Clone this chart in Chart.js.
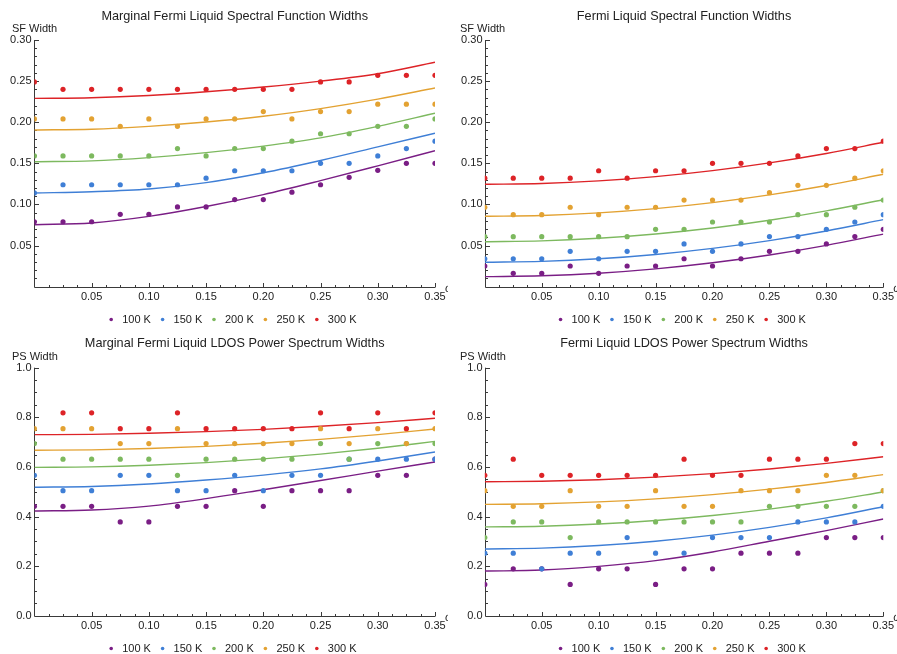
<!DOCTYPE html>
<html>
<head>
<meta charset="utf-8">
<script src="https://cdn.jsdelivr.net/npm/chart.js@4.4.0/dist/chart.umd.min.js"></script>
<style>
  body { margin: 0; background: #fff; }
  #wrap { position: relative; width: 897px; height: 654px; overflow: hidden; }
  #wrap canvas { position: absolute; }
</style>
</head>
<body>
<div id="wrap">
  <canvas id="c0"></canvas><canvas id="c1"></canvas><canvas id="c2"></canvas><canvas id="c3"></canvas>
</div>
<script>
const omega = [0, 0.025, 0.05, 0.075, 0.1, 0.125, 0.15, 0.175, 0.2, 0.225, 0.25, 0.275, 0.3, 0.325, 0.35];
const fitOmega = [0, 0.05, 0.1, 0.15, 0.2, 0.25, 0.3, 0.35];
const temps = ['100 K', '150 K', '200 K', '250 K', '300 K'];
const colors = ['#7a1e85', '#3f7fd6', '#7db95f', '#e3a232', '#dd2327'];

// marginal fermi liquid, spectral function widths
const mflSf100 = [0.079, 0.079, 0.079, 0.088, 0.088, 0.097, 0.097, 0.106, 0.106, 0.115, 0.124, 0.133, 0.1415, 0.150, 0.150];
const mflSf150 = [0.114, 0.124, 0.124, 0.124, 0.124, 0.124, 0.132, 0.141, 0.141, 0.141, 0.150, 0.150, 0.159, 0.168, 0.177];
const mflSf200 = [0.159, 0.159, 0.159, 0.159, 0.159, 0.168, 0.159, 0.168, 0.168, 0.177, 0.186, 0.186, 0.195, 0.195, 0.204];
const mflSf250 = [0.204, 0.204, 0.204, 0.195, 0.204, 0.195, 0.204, 0.204, 0.213, 0.204, 0.213, 0.213, 0.222, 0.222, 0.222];
const mflSf300 = [0.249, 0.240, 0.240, 0.240, 0.240, 0.240, 0.240, 0.240, 0.240, 0.240, 0.249, 0.249, 0.257, 0.257, 0.257];
const mflSfFit100 = [0.0754, 0.0775, 0.0855, 0.0975, 0.112, 0.129, 0.147, 0.1654];
const mflSfFit150 = [0.114, 0.1155, 0.1188, 0.1265, 0.1385, 0.1535, 0.170, 0.1866];
const mflSfFit200 = [0.152, 0.153, 0.157, 0.163, 0.171, 0.181, 0.195, 0.211];
const mflSfFit250 = [0.1906, 0.1915, 0.195, 0.2002, 0.2072, 0.2166, 0.2281, 0.2416];
const mflSfFit300 = [0.229, 0.2298, 0.2325, 0.237, 0.2428, 0.250, 0.259, 0.2729];

// fermi liquid, spectral function widths
const flSf100 = [0.0252, 0.0163, 0.0163, 0.0252, 0.0163, 0.0252, 0.0252, 0.034, 0.0252, 0.034, 0.043, 0.043, 0.052, 0.061, 0.0698];
const flSf150 = [0.034, 0.034, 0.034, 0.043, 0.034, 0.043, 0.043, 0.052, 0.043, 0.052, 0.061, 0.061, 0.0698, 0.0787, 0.0876];
const flSf200 = [0.0608, 0.0608, 0.0608, 0.0608, 0.0608, 0.0608, 0.0698, 0.0698, 0.0787, 0.0787, 0.0787, 0.0876, 0.0876, 0.0966, 0.1054];
const flSf250 = [0.0966, 0.0876, 0.0876, 0.0966, 0.0876, 0.0966, 0.0966, 0.1054, 0.1054, 0.1054, 0.1143, 0.1233, 0.1233, 0.132, 0.141];
const flSf300 = [0.132, 0.132, 0.132, 0.132, 0.141, 0.132, 0.141, 0.141, 0.150, 0.150, 0.150, 0.159, 0.168, 0.168, 0.177];
const flSfFit100 = [0.0122, 0.0133, 0.0164, 0.0217, 0.0291, 0.0386, 0.0503, 0.064];
const flSfFit150 = [0.0297, 0.0308, 0.0339, 0.0392, 0.0466, 0.0561, 0.0678, 0.0815];
const flSfFit200 = [0.0547, 0.0557, 0.0589, 0.0641, 0.0714, 0.0808, 0.0922, 0.1058];
const flSfFit250 = [0.0856, 0.0866, 0.0898, 0.095, 0.1023, 0.1117, 0.1231, 0.1367];
const flSfFit300 = [0.1245, 0.1255, 0.1287, 0.1339, 0.1412, 0.1506, 0.162, 0.1756];

// marginal fermi liquid, LDOS power spectrum widths
const mflPs100 = [0.441, 0.441, 0.441, 0.378, 0.378, 0.441, 0.441, 0.504, 0.441, 0.504, 0.504, 0.504, 0.566, 0.566, 0.631];
const mflPs150 = [0.566, 0.504, 0.504, 0.566, 0.566, 0.504, 0.504, 0.566, 0.504, 0.566, 0.566, 0.631, 0.631, 0.631, 0.631];
const mflPs200 = [0.694, 0.631, 0.631, 0.631, 0.631, 0.566, 0.631, 0.631, 0.631, 0.631, 0.694, 0.631, 0.694, 0.694, 0.694];
const mflPs250 = [0.754, 0.754, 0.754, 0.694, 0.694, 0.754, 0.694, 0.694, 0.694, 0.694, 0.754, 0.694, 0.754, 0.694, 0.754];
const mflPs300 = [null, 0.818, 0.818, 0.754, 0.754, 0.818, 0.754, 0.754, 0.754, 0.754, 0.818, 0.754, 0.818, 0.754, 0.818];
const mflPsFit100 = [0.422, 0.426, 0.442, 0.472, 0.508, 0.545, 0.583, 0.620];
const mflPsFit150 = [0.518, 0.521, 0.531, 0.547, 0.567, 0.592, 0.624, 0.660];
const mflPsFit200 = [0.598, 0.600, 0.6066, 0.6173, 0.6323, 0.6516, 0.6751, 0.703];
const mflPsFit250 = [0.667, 0.6688, 0.674, 0.6828, 0.6951, 0.7109, 0.7302, 0.753];
const mflPsFit300 = [0.730, 0.7313, 0.7354, 0.7421, 0.7515, 0.7637, 0.7785, 0.796];

// fermi liquid, LDOS power spectrum widths
const flPs100 = [0.126, 0.189, 0.189, 0.126, 0.189, 0.189, 0.126, 0.189, 0.189, 0.252, 0.252, 0.252, 0.315, 0.315, 0.315];
const flPs150 = [0.252, 0.252, 0.189, 0.252, 0.252, 0.315, 0.252, 0.252, 0.315, 0.315, 0.315, 0.378, 0.378, 0.378, 0.441];
const flPs200 = [0.315, 0.378, 0.378, 0.315, 0.378, 0.378, 0.378, 0.378, 0.378, 0.378, 0.441, 0.441, 0.441, 0.441, 0.504];
const flPs250 = [0.504, 0.441, 0.441, 0.504, 0.441, 0.441, 0.504, 0.441, 0.441, 0.504, 0.504, 0.504, 0.566, 0.566, 0.504];
const flPs300 = [0.566, 0.631, 0.566, 0.566, 0.566, 0.566, 0.566, 0.631, 0.566, 0.566, 0.631, 0.631, 0.631, 0.694, 0.694];
const flPsFit100 = [0.180, 0.184, 0.199, 0.222, 0.257, 0.300, 0.343, 0.390];
const flPsFit150 = [0.269, 0.2725, 0.2829, 0.3003, 0.3247, 0.356, 0.3943, 0.4395];
const flPsFit200 = [0.358, 0.3609, 0.3695, 0.3839, 0.404, 0.4299, 0.4616, 0.499];
const flPsFit250 = [0.449, 0.4514, 0.4588, 0.471, 0.4882, 0.5102, 0.5372, 0.569];
const flPsFit300 = [0.540, 0.5421, 0.5482, 0.5586, 0.573, 0.5915, 0.6142, 0.641];

const xTicks = [0.05, 0.10, 0.15, 0.20, 0.25, 0.30, 0.35];
const sfTicks = [0.05, 0.10, 0.15, 0.20, 0.25, 0.30];
const psTicks = [0.0, 0.2, 0.4, 0.6, 0.8, 1.0];

const FONT = '"Liberation Sans", Arial, sans-serif';

// mathematica-like axes: inward ticks, labels, titles and legend
const mmaAxes = {
  id: 'mmaAxes',
  beforeDatasetsDraw(chart, args, o) {
    const { ctx, chartArea: a, scales: { x, y } } = chart;
    const x0 = Math.round(x.getPixelForValue(0)) + 0.5, y0 = Math.round(y.getPixelForValue(0)) + 0.5;
    ctx.save();
    ctx.strokeStyle = '#3a3a3a'; ctx.lineWidth = 1;
    ctx.beginPath();
    ctx.moveTo(x0, y0); ctx.lineTo(x.getPixelForValue(0.35), y0);
    ctx.moveTo(x0, y0); ctx.lineTo(x0, y.getPixelForValue(o.yMax));
    for (let v = 0.0125; v <= 0.35 + 1e-9; v += 0.0125) {
      const px = Math.round(x.getPixelForValue(v)) + 0.5;
      const major = Math.abs(v / 0.05 - Math.round(v / 0.05)) < 1e-6;
      ctx.moveTo(px, y0); ctx.lineTo(px, y0 - (major ? 4.5 : 2.5));
    }
    for (let v = o.yMinor; v <= o.yMax + 1e-9; v += o.yMinor) {
      const py = Math.round(y.getPixelForValue(v)) + 0.5;
      const major = Math.abs(v / o.yStep - Math.round(v / o.yStep)) < 1e-6;
      ctx.moveTo(x0, py); ctx.lineTo(x0 + (major ? 4.5 : 2.5), py);
    }
    ctx.stroke();

    ctx.fillStyle = '#222';
    ctx.font = '11px ' + FONT;
    ctx.textAlign = 'center'; ctx.textBaseline = 'top';
    xTicks.forEach(v => ctx.fillText(v.toFixed(2), x.getPixelForValue(v), y0 + 4));
    ctx.textAlign = 'right'; ctx.textBaseline = 'middle';
    o.yTicks.forEach(v => ctx.fillText(v.toFixed(o.yDigits), x0 - 3, y.getPixelForValue(v)));
    ctx.textAlign = 'left';
    ctx.fillText(o.yTitle, 12, a.top - 11);
    ctx.fillText('ω', a.right + 10, y0 + 1);

    const cx = (a.left + a.right) / 2;
    ctx.font = '12.7px ' + FONT;
    ctx.textAlign = 'center';
    ctx.fillText(o.title, cx, 16);

    // legend
    ctx.font = '11px ' + FONT;
    ctx.textAlign = 'left';
    const ly = y0 + 32;
    temps.forEach((t, i) => {
      const mx = cx - 123.5 + i * 51.4;
      ctx.fillStyle = colors[i];
      ctx.beginPath(); ctx.arc(mx, ly, 1.8, 0, Math.PI * 2); ctx.fill();
      ctx.fillStyle = '#222';
      ctx.fillText(t, mx + 11, ly);
    });
    ctx.restore();
  }
};

function makePanel(id, box, pad, opts, points, fits) {
  const cv = document.getElementById(id);
  cv.width = box.w; cv.height = box.h;
  cv.style.left = box.left + 'px'; cv.style.top = box.top + 'px';
  const datasets = [];
  points.forEach((arr, i) => datasets.push({
    type: 'scatter', label: temps[i], order: 10 - i, clip: 0,
    data: omega.map((w, j) => ({ x: w, y: arr[j] })),
    pointRadius: 2.6, pointBackgroundColor: colors[i], pointBorderWidth: 0, showLine: false,
  }));
  fits.forEach((arr, i) => datasets.push({
    type: 'line', label: temps[i] + ' fit', order: 20 - i, clip: 0,
    data: fitOmega.map((w, j) => ({ x: w, y: arr[j] })),
    borderColor: colors[i], borderWidth: 1.4, pointRadius: 0, cubicInterpolationMode: 'monotone', fill: false,
  }));
  return new Chart(cv, {
    type: 'scatter',
    data: { datasets },
    options: {
      responsive: false, animation: false,
      layout: { padding: pad },
      plugins: { legend: { display: false }, tooltip: { enabled: false }, mmaAxes: opts },
      scales: {
        x: { type: 'linear', min: 0, max: 0.35, display: false },
        y: { type: 'linear', min: 0, max: opts.yMax, display: false },
      },
    },
    plugins: [mmaAxes],
  });
}

const sfOpts = { yTitle: 'SF Width', yMax: 0.30, yStep: 0.05, yMinor: 0.01, yTicks: sfTicks, yDigits: 2 };
const psOpts = { yTitle: 'PS Width', yMax: 1.0, yStep: 0.2, yMinor: 0.05, yTicks: psTicks, yDigits: 1 };

makePanel('c0', { left: 0, top: 0, w: 448, h: 327 }, { left: 34.4, right: 13, top: 40, bottom: 40.3 },
  { ...sfOpts, title: 'Marginal Fermi Liquid Spectral Function Widths' },
  [mflSf100, mflSf150, mflSf200, mflSf250, mflSf300],
  [mflSfFit100, mflSfFit150, mflSfFit200, mflSfFit250, mflSfFit300]);

makePanel('c1', { left: 448, top: 0, w: 449, h: 327 }, { left: 36.8, right: 13.7, top: 40, bottom: 40.3 },
  { ...sfOpts, title: 'Fermi Liquid Spectral Function Widths' },
  [flSf100, flSf150, flSf200, flSf250, flSf300],
  [flSfFit100, flSfFit150, flSfFit200, flSfFit250, flSfFit300]);

makePanel('c2', { left: 0, top: 327, w: 448, h: 327 }, { left: 34.4, right: 13, top: 40.7, bottom: 38.3 },
  { ...psOpts, title: 'Marginal Fermi Liquid LDOS Power Spectrum Widths' },
  [mflPs100, mflPs150, mflPs200, mflPs250, mflPs300],
  [mflPsFit100, mflPsFit150, mflPsFit200, mflPsFit250, mflPsFit300]);

makePanel('c3', { left: 448, top: 327, w: 449, h: 327 }, { left: 36.8, right: 13.7, top: 40.7, bottom: 38.3 },
  { ...psOpts, title: 'Fermi Liquid LDOS Power Spectrum Widths' },
  [flPs100, flPs150, flPs200, flPs250, flPs300],
  [flPsFit100, flPsFit150, flPsFit200, flPsFit250, flPsFit300]);
</script>
</body>
</html>
